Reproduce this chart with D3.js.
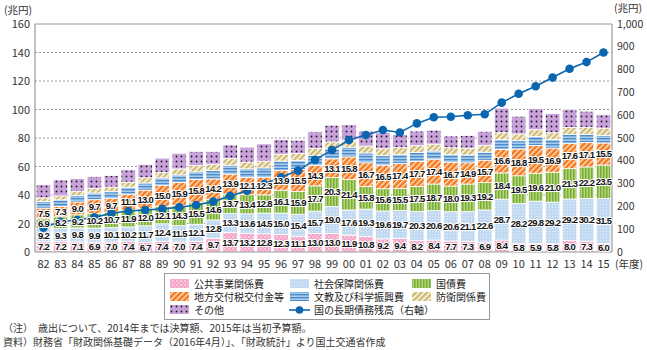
<!DOCTYPE html>
<html><head><meta charset="utf-8">
<script src="https://cdn.jsdelivr.net/npm/d3@7"></script>
<style>
html,body{margin:0;padding:0;background:#fff;}
svg{display:block;font-family:"Noto Sans CJK JP","Noto Sans",sans-serif;}
</style></head>
<body>
<svg id="c" width="647" height="350"></svg>
<script>
const years = ["82","83","84","85","86","87","88","89","90","91","92","93","94","95","96","97","98","99","00","01","02","03","04","05","06","07","08","09","10","11","12","13","14","15"];
const publicWorks = [7.2,7.2,7.1,6.9,7.0,7.4,6.7,7.4,7.0,7.4,9.7,13.7,13.2,12.8,12.3,11.1,13.0,13.0,11.9,10.8,9.2,9.4,8.2,8.4,7.7,7.3,6.9,8.4,5.8,5.9,5.8,8.0,7.3,6.0];
const socialSecurity = [9.2,9.3,9.8,9.9,10.1,10.2,11.7,12.4,11.5,12.1,12.8,13.3,13.6,14.5,15.0,15.4,15.7,19.0,17.6,19.3,19.6,19.7,20.3,20.6,20.6,21.1,22.6,28.7,28.2,29.8,29.2,29.2,30.2,31.5];
const debtService = [6.9,8.2,9.2,10.2,10.7,11.9,12.0,12.1,14.3,15.5,14.6,13.7,13.4,12.8,16.1,15.9,17.7,20.3,21.4,15.8,15.6,15.5,17.5,18.7,18.0,19.3,19.2,18.4,19.5,19.6,21.0,21.3,22.2,23.5];
const localAlloc = [7.5,7.3,9.0,9.7,9.7,11.1,13.0,15.0,15.9,15.8,14.2,13.9,12.1,12.3,13.9,15.5,14.3,13.1,15.8,16.7,16.5,17.4,17.7,17.4,16.7,14.9,15.7,16.6,18.8,19.5,16.9,17.6,17.1,15.5];
const education = [4.6,4.6,4.6,4.7,4.8,4.9,5.0,5.1,5.4,5.5,5.8,6.3,6.1,6.6,6.5,6.4,7.0,7.0,6.9,6.9,6.7,6.4,6.1,5.8,5.4,5.5,5.7,6.8,5.8,6.2,6.0,6.4,5.7,5.4];
const defense = [2.6,2.8,2.9,3.1,3.3,3.5,3.7,3.9,4.2,4.4,4.5,4.6,4.7,4.7,4.8,4.9,4.9,4.9,4.9,4.9,4.9,4.9,4.9,4.8,4.8,4.8,4.8,4.8,4.7,4.8,4.8,4.9,5.0,5.0];
const others = [9.2,11.2,8.9,8.5,8.0,8.7,9.4,10.0,11.0,9.9,8.9,9.6,10.5,12.2,10.2,9.3,11.8,11.7,10.8,10.4,11.2,9.1,10.2,9.8,8.2,8.9,9.8,17.3,12.5,14.9,13.4,12.8,11.3,9.4];
const debtBalance = [107,133,140,152,170,180,184,189,196,206,221,246,269,298,328,357,404,447,491,513,535,524,564,591,593,600,604,655,694,727,765,804,833,875];
const leftTicks = [0,20,40,60,80,100,120,140,160];
const rightTicks = [0,100,200,300,400,500,600,700,800,900,1000];

const seriesNames = ["公共事業関係費","社会保障関係費","国債費","地方交付税交付金等","文教及び科学振興費","防衛関係費","その他"];
const seriesData = [publicWorks, socialSecurity, debtService, localAlloc, education, defense, others];
const labeled = [true,true,true,true,false,false,false];
const patIds = ["pPink","pBlue","pGreen","pOrange","pStripe","pKhaki","pPurple"];

const svg = d3.select("#c");
const defs = svg.append("defs");
function pat(id,w,h,draw,rot){
  const p = defs.append("pattern").attr("id",id).attr("patternUnits","userSpaceOnUse").attr("width",w).attr("height",h);
  if(rot) p.attr("patternTransform","rotate("+rot+")");
  draw(p);
}
pat("pPink",4,4,p=>{p.append("rect").attr("width",4).attr("height",4).attr("fill","#f4a3c6");
  p.append("circle").attr("cx",1).attr("cy",1).attr("r",0.8).attr("fill","#fff");
  p.append("circle").attr("cx",3).attr("cy",3).attr("r",0.8).attr("fill","#fbd3e5");});
pat("pBlue",3,3,p=>{p.append("rect").attr("width",3).attr("height",3).attr("fill","#c2daf1");
  p.append("rect").attr("x",0).attr("y",0).attr("width",1).attr("height",1).attr("fill","#e4eff9");});
pat("pGreen",3,3,p=>{p.append("rect").attr("width",3).attr("height",3).attr("fill","#b3d57c");
  p.append("rect").attr("width",1.5).attr("height",3).attr("fill","#79ac34");});
pat("pOrange",4,4,p=>{p.append("rect").attr("width",4).attr("height",4).attr("fill","#f47a20");
  p.append("rect").attr("width",1.4).attr("height",4).attr("fill","#fde3cc");},45);
pat("pStripe",3,3,p=>{p.append("rect").attr("width",3).attr("height",3).attr("fill","#a9cbeb");
  p.append("rect").attr("width",3).attr("height",1.4).attr("fill","#4c8ccb");});
pat("pKhaki",4,4,p=>{p.append("rect").attr("width",4).attr("height",4).attr("fill","#f3ecd2");
  p.append("rect").attr("width",1.8).attr("height",4).attr("fill","#c9b46c");},45);
pat("pPurple",5,5,p=>{p.append("rect").attr("width",5).attr("height",5).attr("fill","#c9a2db");
  p.append("circle").attr("cx",1.5).attr("cy",1.5).attr("r",0.9).attr("fill","#1a1a1a");});

const x = d3.scaleBand().domain(years).range([35,612]).paddingInner(0.14).paddingOuter(0.07);
const y = d3.scaleLinear().domain([0,160]).range([252,24]);
const y2 = d3.scaleLinear().domain([0,1000]).range([252,24]);

// grid
svg.append("g").selectAll("line").data(leftTicks.filter(d=>d>0 && d<160)).join("line")
  .attr("x1",35).attr("x2",612).attr("y1",d=>y(d)).attr("y2",d=>y(d))
  .attr("stroke","#999").attr("stroke-width",1).attr("stroke-dasharray","2,2");

// stack
const rows = years.map((yr,i)=>{const o={year:yr}; seriesNames.forEach((s,k)=>o[s]=seriesData[k][i]); return o;});
const stack = d3.stack().keys(seriesNames)(rows);
const gBars = svg.append("g");
stack.forEach((layer,k)=>{
  gBars.append("g").selectAll("rect").data(layer).join("rect")
    .attr("x",d=>x(d.data.year)).attr("width",x.bandwidth())
    .attr("y",d=>y(d[1])).attr("height",d=>y(d[0])-y(d[1]))
    .attr("fill","url(#"+patIds[k]+")").attr("stroke","#fff").attr("stroke-width",0.8);
});

// axes lines
svg.append("line").attr("x1",35).attr("x2",612).attr("y1",24).attr("y2",24).attr("stroke","#999").attr("stroke-width",1.2);
svg.append("line").attr("x1",35).attr("x2",35).attr("y1",24).attr("y2",252).attr("stroke","#999").attr("stroke-width",1.2);
svg.append("line").attr("x1",612).attr("x2",612).attr("y1",24).attr("y2",252).attr("stroke","#999").attr("stroke-width",1.2);
svg.append("line").attr("x1",35).attr("x2",612).attr("y1",252).attr("y2",252).attr("stroke","#999").attr("stroke-width",1);

// line
const cx = d=>x(d)+x.bandwidth()/2;
const lineColor = "#0b66b0";
svg.append("path").datum(debtBalance)
  .attr("d",d3.line().x((d,i)=>cx(years[i])).y(d=>y2(d)))
  .attr("fill","none").attr("stroke",lineColor).attr("stroke-width",1.6);
svg.append("g").selectAll("circle").data(debtBalance).join("circle")
  .attr("cx",(d,i)=>cx(years[i])).attr("cy",d=>y2(d)).attr("r",4.3).attr("fill",lineColor);

// value labels
const gLab = svg.append("g").attr("font-family","'Liberation Sans',Arial,sans-serif").attr("font-size",9.5).attr("font-weight","bold");
stack.forEach((layer,k)=>{
  if(!labeled[k]) return;
  gLab.append("g").selectAll("text").data(layer).join("text")
    .attr("x",d=>cx(d.data.year)).attr("y",d=>y((d[0]+d[1])/2)+3.4)
    .attr("text-anchor","middle").attr("letter-spacing","-0.7")
    .attr("fill","#111").attr("stroke","#fff").attr("stroke-width",2.2).attr("stroke-linejoin","round")
    .attr("paint-order","stroke")
    .text(d=>(d[1]-d[0]).toFixed(1));
});

// tick labels
const tc = "#333";
svg.append("g").selectAll("text").data(leftTicks).join("text")
  .attr("x",30).attr("y",d=>y(d)+4).attr("text-anchor","end").attr("font-size",11).attr("fill",tc).text(d=>d);
svg.append("g").selectAll("text").data(rightTicks).join("text")
  .attr("x",617).attr("y",d=>y2(d)+3.5).attr("text-anchor","start").attr("font-size",10.5).attr("fill",tc).text(d=>d3.format(",")(d));
svg.append("g").selectAll("text").data(years).join("text")
  .attr("x",d=>cx(d)).attr("y",268).attr("text-anchor","middle").attr("font-size",11).attr("fill",tc).text(d=>d);
svg.append("text").attr("x",615).attr("y",268).attr("font-size",10.5).attr("fill",tc).text("(年度)");
svg.append("text").attr("x",4).attr("y",14).attr("font-size",10.5).attr("fill",tc).text("(兆円)");
svg.append("text").attr("x",614).attr("y",12).attr("font-size",10.5).attr("fill",tc).text("(兆円)");

// legend
const lg = svg.append("g");
lg.append("rect").attr("x",164.5).attr("y",273.5).attr("width",325).attr("height",46).attr("fill","#fff").attr("stroke","#999");
const legendItems = [
  {k:0,col:0,row:0},{k:1,col:1,row:0},{k:2,col:2,row:0},
  {k:3,col:0,row:1},{k:4,col:1,row:1},{k:5,col:2,row:1},
  {k:6,col:0,row:2},{k:-1,col:1,row:2}];
const colX = [170,290,412];
const rowY = [284,297,310];
legendItems.forEach(it=>{
  const gx = colX[it.col], gy = rowY[it.row];
  if(it.k>=0){
    lg.append("rect").attr("x",gx).attr("y",gy-5).attr("width",19).attr("height",9).attr("fill","url(#"+patIds[it.k]+")");
    lg.append("text").attr("x",gx+24).attr("y",gy+3.5).attr("font-size",10).attr("fill","#222").text(seriesNames[it.k]);
  } else {
    lg.append("line").attr("x1",gx-1).attr("x2",gx+20).attr("y1",gy).attr("y2",gy).attr("stroke",lineColor).attr("stroke-width",1.6);
    lg.append("circle").attr("cx",gx+9.5).attr("cy",gy).attr("r",3.8).attr("fill",lineColor);
    lg.append("text").attr("x",gx+24).attr("y",gy+3.5).attr("font-size",10).attr("fill","#222").text("国の長期債務残高（右軸）");
  }
});

// notes
svg.append("text").attr("x",3).attr("y",332).attr("font-size",10).attr("fill","#333").text("（注）　歳出について、2014年までは決算額、2015年は当初予算額。");
svg.append("text").attr("x",3).attr("y",346).attr("font-size",10).attr("fill","#333").text("資料）財務省「財政関係基礎データ（2016年4月）」、「財政統計」より国土交通省作成");
</script>
</body></html>
